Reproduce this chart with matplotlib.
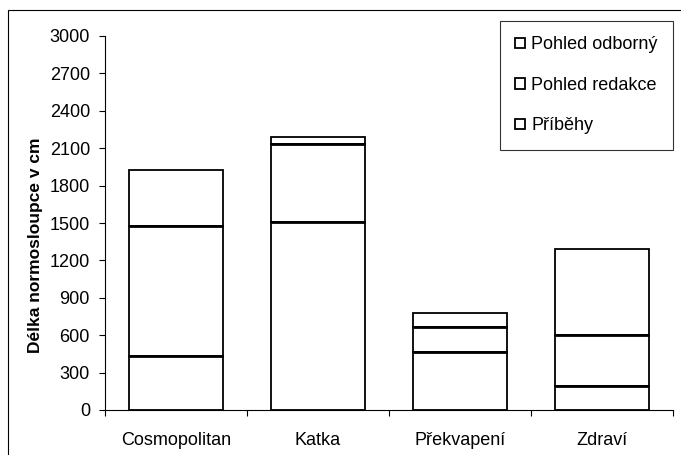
import matplotlib
matplotlib.use("Agg")
import matplotlib.pyplot as plt
from matplotlib.patches import Rectangle
import numpy as np

plt.rcParams['font.family'] = ['Liberation Sans', 'DejaVu Sans']

categories = ["Cosmopolitan", "Katka", "Překvapení", "Zdraví"]
pribehy = [433, 1510, 468, 192]
pohled_redakce = [1043, 621, 195, 409]
pohled_odborny = [449, 59, 117, 688]
yticks = [0, 300, 600, 900, 1200, 1500, 1800, 2100, 2400, 2700, 3000]

W, H = 681, 455
fig = plt.figure(figsize=(W / 100, H / 100), dpi=100)
ax = fig.add_axes([105 / W, 1 - 410 / H, (673 - 105) / W, (410 - 36) / H])

x = np.arange(len(categories))
bw = 0.66
b1 = ax.bar(x, pribehy, bw, color='white', edgecolor='black', linewidth=1.3, label='Příběhy')
b2 = ax.bar(x, pohled_redakce, bw, bottom=pribehy, color='white', edgecolor='black', linewidth=1.3,
            label='Pohled redakce')
bottom3 = [a + b for a, b in zip(pribehy, pohled_redakce)]
b3 = ax.bar(x, pohled_odborny, bw, bottom=bottom3, color='white', edgecolor='black', linewidth=1.3,
            label='Pohled odborný')
# thicker dividers between segments
ax.hlines(pribehy, x - bw / 2, x + bw / 2, colors='black', linewidth=2)
ax.hlines(bottom3, x - bw / 2, x + bw / 2, colors='black', linewidth=2)

ax.set_xlim(-0.5, len(categories) - 0.5)
ax.set_ylim(0, 3000)
ax.set_yticks(yticks)
ax.set_yticklabels([str(t) for t in yticks], fontsize=13)
ax.set_xticks(x)
ax.set_xticklabels(categories, fontsize=13)
ax.tick_params(axis='x', length=0, pad=16)
ax.set_xticks(np.arange(-0.5, len(categories) + 0.5, 1), minor=True)
ax.tick_params(axis='x', which='minor', length=4, direction='out', width=0.8)
ax.tick_params(axis='y', length=4.3, direction='out', width=0.8, pad=6.5)
for s in ['top', 'right']:
    ax.spines[s].set_visible(False)
ax.spines['left'].set_linewidth(0.8)
ax.spines['bottom'].set_linewidth(0.8)

ax.set_ylabel('Délka normosloupce v cm', fontsize=12.5, fontweight='bold')
ax.yaxis.set_label_coords(-0.11, 0.44)

leg = ax.legend(handles=[b3, b2, b1], loc='upper right', bbox_to_anchor=(1.0, 1.04),
                fontsize=13, frameon=True, fancybox=False, edgecolor='black',
                handlelength=0.55, handleheight=0.55, handletextpad=0.35,
                labelspacing=1.3, borderpad=0.85, borderaxespad=0)
leg.get_frame().set_linewidth(0.8)

fig.patches.append(Rectangle((8 / W, -0.01), 1.0, 1 - 10 / H + 0.01, transform=fig.transFigure,
                             fill=False, edgecolor='black', linewidth=0.8))

fig.savefig('out.png', dpi=100)
